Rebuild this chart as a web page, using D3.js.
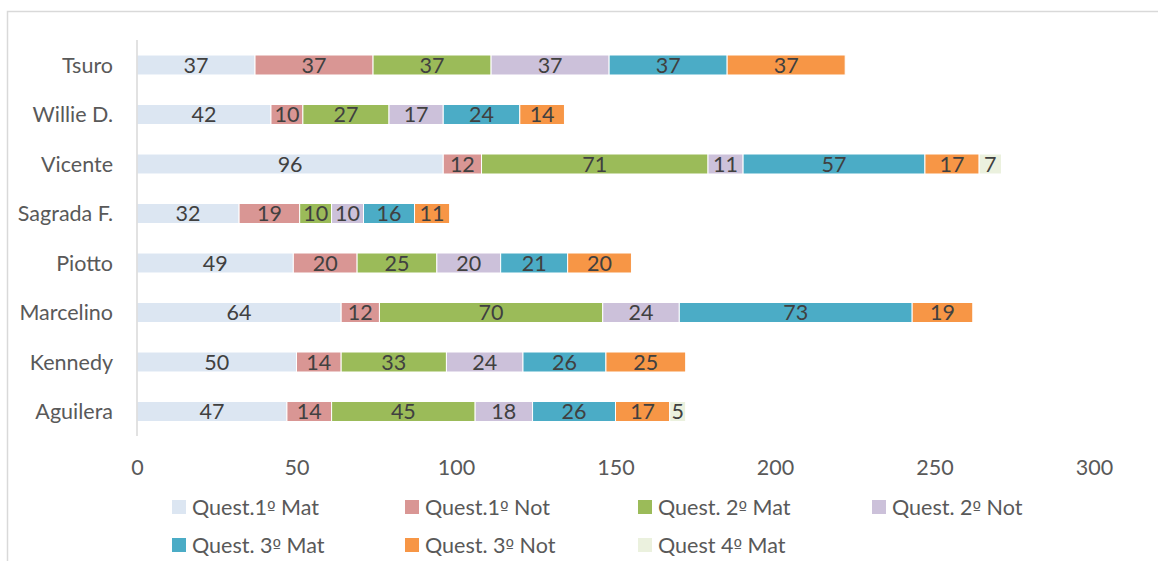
<!DOCTYPE html>
<html><head><meta charset="utf-8">
<script src="https://cdn.jsdelivr.net/npm/d3@7"></script>
<style>html,body{margin:0;padding:0;background:#fff;}svg{display:block;}</style>
</head><body>
<svg id="c" width="1158" height="561"></svg>
<script>
const categories = ["Tsuro","Willie D.","Vicente","Sagrada F.","Piotto","Marcelino","Kennedy","Aguilera"];
const seriesNames = ["Quest.1º Mat","Quest.1º Not","Quest. 2º Mat","Quest. 2º Not","Quest. 3º Mat","Quest. 3º Not","Quest 4º Mat"];
const q1Mat = [37,42,96,32,49,64,50,47];
const q1Not = [37,10,12,19,20,12,14,14];
const q2Mat = [37,27,71,10,25,70,33,45];
const q2Not = [37,17,11,10,20,24,24,18];
const q3Mat = [37,24,57,16,21,73,26,26];
const q3Not = [37,14,17,11,20,19,25,17];
const q4Mat = [0,0,7,0,0,0,0,5];
const tickValues = [0,50,100,150,200,250,300];
const colors = ["#dce6f2","#d99694","#9bbb59","#ccc1da","#4bacc6","#f79646","#ebf1de"];

const seriesValues = [q1Mat,q1Not,q2Mat,q2Not,q3Mat,q3Not,q4Mat];
const rows = categories.map((c,i)=>{const o={cat:c};seriesNames.forEach((s,j)=>o[s]=seriesValues[j][i]);return o;});
const stack = d3.stack().keys(seriesNames)(rows);

const svg = d3.select("#c");
const FONT = "Lato,'Liberation Sans',Arial,sans-serif";
const FS = 21.5;
svg.append("path").attr("d","M7.5,561 V11.5 H1158").attr("fill","none").attr("stroke","#d9d9d9").attr("stroke-width",1.5);

const x = d3.scaleLinear().domain([0,300]).range([137,1094]);
const y = d3.scaleBand().domain(categories).range([40.25,436.25]).paddingInner(0.596).paddingOuter(0.298);

const g = svg.append("g");
stack.forEach((s,si)=>{
  const sg = g.append("g");
  const data = s.filter(d=>d[1]-d[0]>0);
  sg.selectAll("rect").data(data).enter().append("rect")
    .attr("x",d=>x(d[0])).attr("width",d=>x(d[1])-x(d[0]))
    .attr("y",d=>y(d.data.cat)).attr("height",y.bandwidth())
    .attr("fill",colors[si]).attr("stroke","#fff").attr("stroke-width",1);
  sg.selectAll("text").data(data).enter().append("text")
    .attr("x",d=>(x(d[0])+x(d[1]))/2).attr("y",d=>y(d.data.cat)+y.bandwidth()/2)
    .attr("dy","0.36em").attr("text-anchor","middle")
    .attr("font-family",FONT).attr("font-size",FS).attr("fill","#404040")
    .text(d=>d[1]-d[0]);
});

// axis line
svg.append("line").attr("x1",137).attr("x2",137).attr("y1",40).attr("y2",436).attr("stroke","#d9d9d9").attr("stroke-width",1.5);

// category labels
const yAxis = d3.axisLeft(y).tickSize(0).tickPadding(0);
const ya = svg.append("g").attr("transform","translate(113,0)").call(yAxis);
ya.select(".domain").remove();
ya.selectAll("text").attr("font-family",FONT).attr("font-size",FS).attr("fill","#595959").attr("dy","0.36em");

// x ticks
const xAxis = d3.axisBottom(x).tickValues(tickValues).tickSize(0).tickPadding(0);
const xa = svg.append("g").attr("transform","translate(0,467)").call(xAxis);
xa.select(".domain").remove();
xa.selectAll("text").attr("font-family",FONT).attr("font-size",FS).attr("fill","#595959").attr("dy","0.36em");

// legend
const legPos = [[172,507],[405,507],[638,507],[872,507],[172,545],[405,545],[638,545]];
seriesNames.forEach((s,i)=>{
  const [lx,ly]=legPos[i];
  const lg = svg.append("g");
  lg.append("rect").attr("x",lx).attr("y",ly-7).attr("width",14).attr("height",14).attr("fill",colors[i]);
  const t = lg.append("text").attr("x",lx+20).attr("y",ly).attr("dy","0.36em")
    .attr("font-family",FONT).attr("font-size",FS).attr("fill","#595959");
  const parts = s.split("º");
  t.append("tspan").text(parts[0]);
  t.append("tspan").attr("font-family","'DejaVu Sans',sans-serif").attr("font-size",FS*0.85).text("º");
  t.append("tspan").text(parts[1]);
});
</script>
</body></html>
